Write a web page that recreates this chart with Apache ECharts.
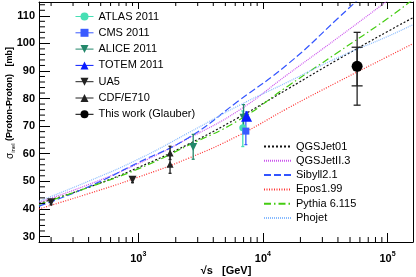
<!DOCTYPE html>
<html><head><meta charset="utf-8">
<script src="https://cdn.jsdelivr.net/npm/echarts@6/dist/echarts.min.js"></script>
<style>html,body{margin:0;padding:0;background:#fff}#c{width:416px;height:277px}</style>
</head><body><div id="c"></div>
<script>
// ---- model curves (sqrt(s) in GeV, sigma_inel in mb) ----
const curveEnergy = [160, 398, 1000, 2512, 6310, 15849, 39811, 100000, 158489];
const qgsjet01   = [42.0, 47.8, 55.0, 63.4, 73.0, 83.5, 94.1, 104.3, 109.2];
const qgsjetII3  = [42.4, 48.8, 56.4, 65.5, 75.5, 88.8, 102.0, 115.5, 122.5];
const sibyll21   = [41.0, 48.0, 56.8, 65.7, 79.0, 92.5, 109.0, 126.0, 135.0];
const epos199    = [40.0, 45.5, 51.5, 58.3, 66.5, 76.5, 86.0, 95.2, 99.8];
const pythia6115 = [41.6, 47.8, 54.5, 63.0, 72.0, 84.5, 96.7, 109.0, 115.8];
const phojet     = [42.8, 50.0, 58.0, 67.5, 77.3, 86.0, 94.8, 102.5, 106.7];

// ---- measurements ----
const atlasE = [6900],  atlasY = [69.4], atlasLo = [62.6], atlasHi = [75.5];
const cmsE   = [7300],  cmsY   = [68.2], cmsLo   = [63.3], cmsHi   = [72.8];
const aliceE = [2760, 7000], aliceY = [62.4, 73.0], aliceLo = [58.0, 68.5], aliceHi = [67.0, 77.8];
const totemE = [7400],  totemY = [73.6], totemLo = [72.1], totemHi = [75.1];
const ua5E   = [200, 900], ua5Y = [42.4, 50.6], ua5Lo = [41.5, 49.5], ua5Hi = [43.3, 51.7];
const cdfE   = [1800, 1800], cdfY = [60.3, 56.2], cdfLo = [57.9, 52.9], cdfHi = [62.7, 59.5];
const glauberE = [57000], glauberY = [91.7];
const glauberOuterLo = [77.6], glauberOuterHi = [104.0];
const glauberInnerLo = [84.6], glauberInnerHi = [98.6];

// ---- axis ticks ----
const xMajorTicks = [1000, 10000, 100000];
const xMinorTicks = [200,300,400,500,600,700,800,900,2000,3000,4000,5000,6000,7000,8000,9000,
                     20000,30000,40000,50000,60000,70000,80000,90000];
const yMajorTicks = [30,40,50,60,70,80,90,100,110];
const yMinorTicks = [32,34,36,38,42,44,46,48,52,54,56,58,62,64,66,68,72,74,76,78,82,84,86,88,
                     92,94,96,98,102,104,106,108,112,114];

const FONT = 'Liberation Sans';
const zip = (a, b) => a.map((v, i) => [v, b[i]]);
const curve = (name, vals, color, dash) => ({
  name, type: 'line', data: zip(curveEnergy, vals), smooth: 0.5, symbol: 'none',
  lineStyle: { color, width: 1.2, type: dash }, itemStyle: { color }, z: 2, silent: true
});
const points = (name, E, Y, color, symbol, size, rot) => ({
  name, type: 'line', data: zip(E, Y), symbol, symbolSize: size, symbolRotate: rot || 0,
  showSymbol: true, showAllSymbol: true,
  lineStyle: { width: 0, opacity: 0, color }, itemStyle: { color }, z: 5, silent: true
});
const errData = (E, lo, hi, cap, color) => E.map((e, i) => [e, lo[i], hi[i], cap, color]);
function errRender(params, api) {
  const x = api.coord([api.value(0), api.value(1)])[0];
  const y1 = api.coord([api.value(0), api.value(1)])[1];
  const y2 = api.coord([api.value(0), api.value(2)])[1];
  const c = api.value(3) / 2;
  const col = errColors[params.dataIndex];
  const st = { stroke: col, lineWidth: 1.3 };
  return { type: 'group', children: [
    { type: 'line', shape: { x1: x, y1: y1, x2: x, y2: y2 }, style: st },
    { type: 'line', shape: { x1: x - c, y1: y1, x2: x + c, y2: y1 }, style: st },
    { type: 'line', shape: { x1: x - c, y1: y2, x2: x + c, y2: y2 }, style: st }
  ]};
}
const errRows = [
  ...errData(atlasE, atlasLo, atlasHi, 3, '#47dfb4'),
  ...errData(cmsE, cmsLo, cmsHi, 3, '#3a5bff'),
  ...errData(aliceE, aliceLo, aliceHi, 3, '#23876a'),
  ...errData(totemE, totemLo, totemHi, 3, '#0a1cff'),
  ...errData(ua5E, ua5Lo, ua5Hi, 3, '#222'),
  ...errData(cdfE, cdfLo, cdfHi, 3, '#222'),
  ...errData(glauberE, glauberOuterLo, glauberOuterHi, 7, '#222'),
  ...errData(glauberE, glauberInnerLo, glauberInnerHi, 11, '#222')
];
const errColors = errRows.map(r => r[4]);

function xTickRender(params, api) {
  const cs = params.coordSys;
  const x = api.coord([api.value(0), 50])[0];
  const yb = cs.y + cs.height, yt = cs.y;
  const st = { stroke: '#000', lineWidth: 1 };
  return { type: 'group', children: [
    { type: 'line', shape: { x1: x, y1: yb, x2: x, y2: yb - 5 }, style: st },
    { type: 'line', shape: { x1: x, y1: yt, x2: x, y2: yt + 4 }, style: st }
  ]};
}
function yTickRender(params, api) {
  const cs = params.coordSys;
  const y = api.coord([1000, api.value(1)])[1];
  return { type: 'line', shape: { x1: cs.x, y1: y, x2: cs.x + 6, y2: y }, style: { stroke: '#000', lineWidth: 1 } };
}

const chart = echarts.init(document.getElementById('c'), null, { renderer: 'canvas' });
chart.setOption({
  animation: false,
  backgroundColor: '#fff',
  grid: { left: 39, right: 3, top: 2, bottom: 35, containLabel: false, outerBoundsMode: 'none' },
  xAxis: [
    { type: 'log', logBase: 10, min: 160, max: 160000, position: 'bottom',
      axisLine: { lineStyle: { color: '#000', width: 1 } },
      axisTick: { inside: true, length: 9, lineStyle: { color: '#000' }, customValues: xMajorTicks },
      axisLabel: { customValues: xMajorTicks, margin: 9,
        formatter: v => '{b|10}{s|' + Math.round(Math.log10(v)) + '}',
        rich: { b: { fontFamily: FONT, fontWeight: 'bold', fontSize: 11, color: '#000', lineHeight: 16, verticalAlign: 'middle' },
                s: { fontFamily: FONT, fontWeight: 'bold', fontSize: 7, color: '#000', lineHeight: 7, verticalAlign: 'top' } } },
      splitLine: { show: false } },
    { type: 'log', logBase: 10, min: 160, max: 160000, position: 'top',
      axisLine: { lineStyle: { color: '#000', width: 1 } },
      axisTick: { inside: true, length: 7, lineStyle: { color: '#000' }, customValues: xMajorTicks },
      axisLabel: { show: false }, splitLine: { show: false } }
  ],
  yAxis: [
    { type: 'value', min: 28, max: 115, position: 'left',
      axisLine: { show: true, lineStyle: { color: '#000', width: 1 } },
      axisTick: { show: true, inside: true, length: 11, lineStyle: { color: '#000' }, customValues: yMajorTicks },
      axisLabel: { customValues: yMajorTicks, margin: 4, fontFamily: FONT, fontWeight: 'bold', fontSize: 11, color: '#000' },
      splitLine: { show: false } },
    { type: 'value', min: 28, max: 115, position: 'right',
      axisLine: { show: true, lineStyle: { color: '#000', width: 1 } },
      axisTick: { show: false }, axisLabel: { show: false }, splitLine: { show: false } }
  ],
  graphic: [{
    type: 'text', x: 10, y: 103, rotation: Math.PI / 2,
    style: {
      text: '{g|\u03C3}{i|inel}{t| (Proton-Proton)   [mb]}',
      align: 'center', verticalAlign: 'middle',
      rich: {
        g: { fontFamily: FONT, fontSize: 10, fill: '#000', lineHeight: 13, verticalAlign: 'middle' },
        i: { fontFamily: FONT, fontSize: 6, fill: '#000', lineHeight: 6, verticalAlign: 'bottom' },
        t: { fontFamily: FONT, fontWeight: 'bold', fontSize: 9, fill: '#000', lineHeight: 13, verticalAlign: 'middle' }
      }
    }
  }, {
    type: 'text', x: 226, y: 270.5,
    style: { text: '\u221As   [GeV]', align: 'center', verticalAlign: 'middle',
             font: 'bold 11px "Liberation Sans"', fill: '#000' }
  }],
  legend: [
    { left: 75, top: 10.5, orient: 'vertical', padding: 0, itemGap: 4.3, itemWidth: 18, itemHeight: 10,
      selectedMode: false, lineStyle: { width: 1, opacity: 1 },
      textStyle: { fontFamily: FONT, fontSize: 11, color: '#000', lineHeight: 12 },
      data: ['ATLAS 2011', 'CMS 2011', 'ALICE 2011', 'TOTEM 2011', 'UA5', 'CDF/E710', 'This work (Glauber)'] },
    { left: 263, top: 140.5, orient: 'vertical', padding: 0, itemGap: 2.3, itemWidth: 27, itemHeight: 10,
      selectedMode: false, itemStyle: { color: 'rgba(0,0,0,0)', opacity: 0 },
      textStyle: { fontFamily: FONT, fontSize: 11, color: '#000', lineHeight: 12 },
      data: ['QGSJet01', 'QGSJetII.3', 'Sibyll2.1', 'Epos1.99', 'Pythia 6.115', 'Phojet'] }
  ],
  series: [
    curve('QGSJet01', qgsjet01, '#111', [2, 2]),
    curve('QGSJetII.3', qgsjetII3, '#cc55ee', [1, 1]),
    curve('Sibyll2.1', sibyll21, '#3355ff', [7, 3]),
    curve('Epos1.99', epos199, '#ff3030', [1, 1.5]),
    curve('Pythia 6.115', pythia6115, '#44cc11', [7, 3, 1.5, 3]),
    curve('Phojet', phojet, '#88bbff', [1, 1]),
    { type: 'custom', renderItem: errRender, data: errRows.map(r => r.slice(0, 4)), z: 4, silent: true, clip: false },
    points('ATLAS 2011', atlasE, atlasY, '#47dfb4', 'circle', 7),
    points('CMS 2011', cmsE, cmsY, '#3a5bff', 'rect', 7),
    points('ALICE 2011', aliceE, aliceY, '#23876a', 'triangle', 8, 180),
    points('TOTEM 2011', totemE, totemY, '#0a1cff', 'triangle', 11),
    points('UA5', ua5E, ua5Y, '#222', 'triangle', 8, 180),
    points('CDF/E710', cdfE, cdfY, '#222', 'triangle', 7),
    points('This work (Glauber)', glauberE, glauberY, '#000', 'circle', 11),
    { type: 'custom', renderItem: xTickRender, data: xMinorTicks.map(v => [v, 50]), z: 6, silent: true, clip: false },
    { type: 'custom', renderItem: yTickRender, data: yMinorTicks.map(v => [1000, v]), z: 6, silent: true, clip: false }
  ]
});
</script></body></html>
